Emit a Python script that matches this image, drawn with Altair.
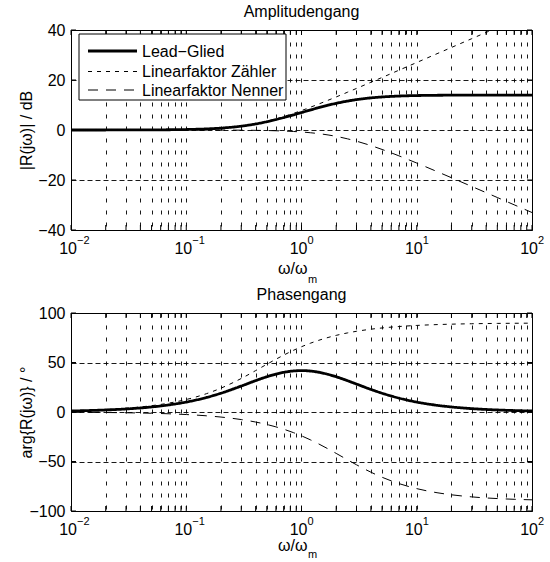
import altair as alt
import pandas as pd

FONT = "Liberation Sans"

# normalised frequency omega / omega_m
w = [0.01, 0.02, 0.03, 0.05, 0.07, 0.1, 0.15, 0.2, 0.3, 0.4, 0.5, 0.6, 0.7, 0.85, 1.0,
     1.2, 1.4, 1.7, 2.0, 2.5, 3.0, 4.0, 5.0, 7.0, 10.0, 15.0, 20.0, 30.0, 50.0, 70.0, 100.0]

# magnitude in dB
mag_lead = [0.00, 0.01, 0.02, 0.05, 0.10, 0.20, 0.44, 0.76, 1.54, 2.42, 3.31, 4.17, 4.97, 6.05, 6.99,
            8.04, 8.90, 9.91, 10.67, 11.56, 12.16, 12.85, 13.22, 13.58, 13.78, 13.89, 13.93, 13.96, 13.97, 13.98, 13.98]
mag_z = [0.00, 0.01, 0.02, 0.05, 0.11, 0.21, 0.46, 0.79, 1.61, 2.55, 3.52, 4.47, 5.38, 6.64, 7.78,
         9.14, 10.33, 11.89, 13.22, 15.09, 16.63, 19.09, 21.00, 23.91, 27.00, 30.52, 33.01, 36.53, 40.97, 43.89, 46.99]
mag_n = [0.00, 0.00, 0.00, 0.00, 0.00, -0.01, -0.02, -0.03, -0.08, -0.14, -0.21, -0.30, -0.41, -0.59, -0.79,
         -1.10, -1.44, -1.98, -2.55, -3.52, -4.47, -6.23, -7.78, -10.33, -13.22, -16.63, -19.09, -22.58, -27.00, -29.92, -33.01]

# phase in degrees
ph_lead = [1.02, 2.05, 3.07, 5.10, 7.11, 10.04, 14.70, 18.98, 26.21, 31.67, 35.59, 38.28, 40.04, 41.44, 41.81,
           41.34, 40.23, 38.01, 35.59, 31.67, 28.22, 22.83, 18.98, 14.06, 10.04, 6.77, 5.10, 3.41, 2.05, 1.46, 1.02]
ph_z = [1.28, 2.56, 3.84, 6.38, 8.90, 12.60, 18.54, 24.09, 33.85, 41.81, 48.19, 53.30, 57.42, 62.25, 65.91,
        69.56, 72.28, 75.26, 77.40, 79.86, 81.52, 83.62, 84.89, 86.34, 87.44, 88.29, 88.72, 89.15, 89.49, 89.63, 89.74]
ph_n = [-0.26, -0.51, -0.77, -1.28, -1.79, -2.56, -3.84, -5.11, -7.64, -10.14, -12.60, -15.02, -17.38, -20.81, -24.09,
        -28.22, -32.05, -37.25, -41.81, -48.19, -53.30, -60.79, -65.91, -72.28, -77.40, -81.52, -83.62, -85.74, -87.44, -88.17, -88.72]

series = ["Lead\u2212Glied", "Linearfaktor Z\u00e4hler", "Linearfaktor Nenner"]

# tick labels
decades = [0.01, 0.1, 1, 10, 100]
exponents = ["\u22122", "\u22121", "0", "1", "2"]
x_ticks = [m * d for d in (0.01, 0.1, 1, 10) for m in range(1, 10)] + [100]
mag_ticks = [-40, -20, 0, 20, 40]
ph_ticks = [-100, -50, 0, 50, 100]

W = 461
H1 = 200
H2 = 198

dash_scale = alt.Scale(type="ordinal", domain=series, range=[[1, 0], [4, 5], [10, 8]])
width_scale = alt.Scale(type="ordinal", domain=series, range=[2.8, 1, 1])
xscale = alt.Scale(type="log", domain=[0.01, 100], nice=False)
xaxis = alt.Axis(values=x_ticks, labels=False, ticks=False, domain=False, grid=True,
                 gridDash=[4, 8], gridColor="black", gridOpacity=0.9, title=None)


def long_df(a, b, c):
    rows = []
    for i, x in enumerate(w):
        rows.append({"w": x, "v": a[i], "s": series[0]})
        rows.append({"w": x, "v": b[i], "s": series[1]})
        rows.append({"w": x, "v": c[i], "s": series[2]})
    return pd.DataFrame(rows)


def panel(df, yticks, title, ytitle, height, with_legend, xlab_dy, xtitle_dy, sub_dy):
    yscale = alt.Scale(domain=[yticks[0], yticks[-1]], nice=False)
    yaxis = alt.Axis(values=yticks, ticks=False, domain=False, grid=True, gridDash=[5, 3],
                     gridColor="black", gridOpacity=0.9, labelFontSize=16, labelPadding=6,
                     labelFont=FONT, labelColor="black", title=ytitle, titleFont=FONT,
                     titleFontSize=16, titleFontWeight="normal", titleColor="black",
                     titleX=-40, titleBaseline="alphabetic")
    X = alt.X("w:Q", scale=xscale, axis=xaxis)
    Y = alt.Y("v:Q", scale=yscale, axis=yaxis)

    lines = alt.Chart(df).mark_line(clip=True, color="black", interpolate="monotone").encode(
        x=X, y=Y,
        strokeDash=alt.StrokeDash("s:N", scale=dash_scale, legend=None),
        strokeWidth=alt.StrokeWidth("s:N", scale=width_scale, legend=None),
        detail="s:N",
    )

    xt = pd.DataFrame({"w": x_ticks})
    yt = pd.DataFrame({"v": yticks})
    tick_b = alt.Chart(xt).mark_rule(color="black", strokeWidth=1).encode(
        x=X, y=alt.value(height), y2=alt.value(height - 5))
    tick_t = alt.Chart(xt).mark_rule(color="black", strokeWidth=1).encode(
        x=X, y=alt.value(0), y2=alt.value(5))
    tick_l = alt.Chart(yt).mark_rule(color="black", strokeWidth=1).encode(
        y=Y, x=alt.value(0), x2=alt.value(5))
    tick_r = alt.Chart(yt).mark_rule(color="black", strokeWidth=1).encode(
        y=Y, x=alt.value(W), x2=alt.value(W - 5))

    dec = pd.DataFrame({"w": decades, "e": exponents})
    lab10 = alt.Chart(dec).mark_text(font=FONT, fontSize=16, align="right", baseline="alphabetic",
                                     dx=6, color="black").encode(
        x=X, y=alt.value(height + xlab_dy), text=alt.value("10"))
    labexp = alt.Chart(dec).mark_text(font=FONT, fontSize=11, align="left", baseline="alphabetic",
                                      dx=6, color="black").encode(
        x=X, y=alt.value(height + xlab_dy - 10), text="e:N")

    one = pd.DataFrame({"t": [title]})
    ttl = alt.Chart(one).mark_text(font=FONT, fontSize=16, align="center", baseline="alphabetic",
                                   color="black").encode(
        x=alt.value(W / 2), y=alt.value(-13), text="t:N")
    xt1 = alt.Chart(one).mark_text(font=FONT, fontSize=16, align="right", baseline="alphabetic",
                                   color="black").encode(
        x=alt.value(W / 2 + 6), y=alt.value(height + xtitle_dy), text=alt.value("\u03c9/\u03c9"))
    xt2 = alt.Chart(one).mark_text(font=FONT, fontSize=11, align="left", baseline="alphabetic",
                                   color="black").encode(
        x=alt.value(W / 2 + 6.5), y=alt.value(height + sub_dy), text=alt.value("m"))

    layers = [lines, tick_b, tick_t, tick_l, tick_r, lab10, labexp, ttl, xt1, xt2]

    if with_legend:
        leg = pd.DataFrame({"s": series})
        box = alt.Chart(one).mark_rect(fill="white", stroke="black", strokeWidth=1).encode(
            x=alt.value(8), x2=alt.value(215), y=alt.value(4), y2=alt.value(70))
        layers.append(box)
        rows_y = [21, 41.5, 60]
        for i, name in enumerate(series):
            sub = leg[leg["s"] == name]
            ln = alt.Chart(sub).mark_rule(color="black").encode(
                x=alt.value(17), x2=alt.value(66), y=alt.value(rows_y[i]),
                strokeDash=alt.StrokeDash("s:N", scale=dash_scale, legend=None),
                strokeWidth=alt.StrokeWidth("s:N", scale=width_scale, legend=None))
            tx = alt.Chart(sub).mark_text(font=FONT, fontSize=16, align="left", baseline="middle",
                                          color="black").encode(
                x=alt.value(71), y=alt.value(rows_y[i] + 0.5), text="s:N")
            layers += [ln, tx]

    return alt.layer(*layers).properties(width=W, height=height)


top = panel(long_df(mag_lead, mag_z, mag_n), mag_ticks, "Amplitudengang", "|R(j\u03c9)| / dB",
            H1, True, 24, 44, 53)
bottom = panel(long_df(ph_lead, ph_z, ph_n), ph_ticks, "Phasengang", "arg{R(j\u03c9)} / \u00b0",
               H2, False, 24, 40, 47)

chart = alt.vconcat(top, bottom, spacing=0).properties(
    padding={"left": 17, "top": 3, "right": 0, "bottom": 0}
).configure_view(stroke="black", strokeWidth=1).configure_axis(labelFont=FONT, titleFont=FONT)

chart.save("out.html", embed_options={"renderer": "svg", "actions": False})
